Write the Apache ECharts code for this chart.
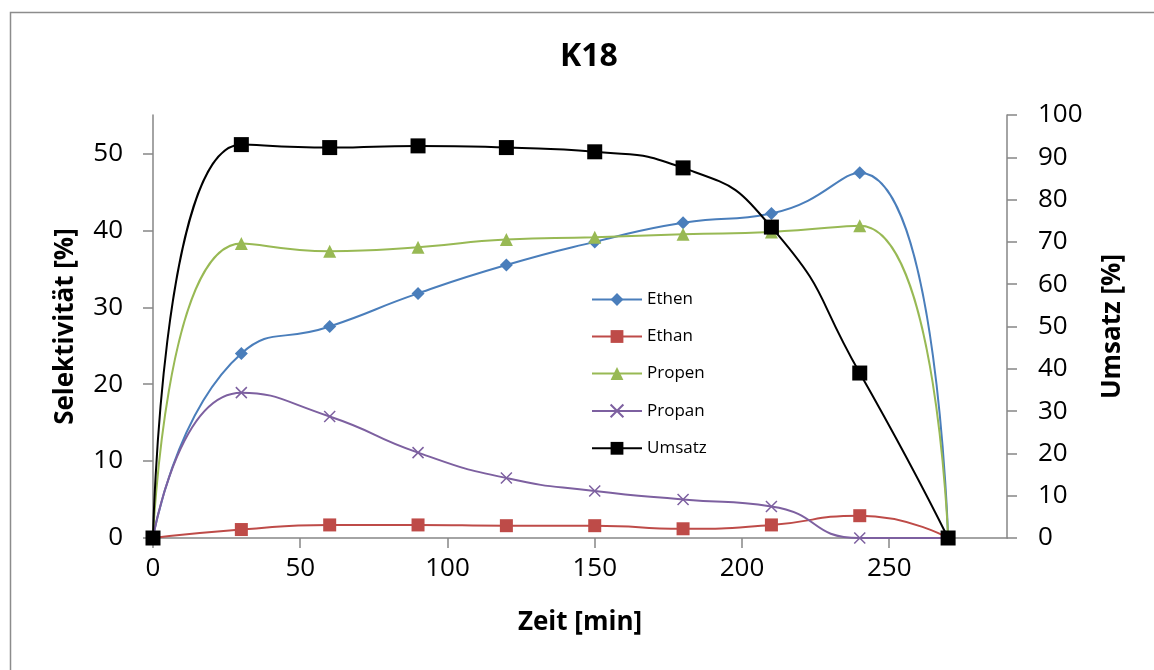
<!DOCTYPE html>
<html>
<head>
<meta charset="utf-8">
<script src="https://cdn.jsdelivr.net/npm/echarts@6/dist/echarts.min.js"></script>
<style>
  html, body { margin: 0; padding: 0; background: #fff; }
  #chart { width: 1154px; height: 670px; }
</style>
</head>
<body>
<div id="chart"></div>
<script>
// Zeit [min]
const zeit = [0, 30, 60, 90, 120, 150, 180, 210, 240, 270];
// Selektivität [%]
const ethen = [0, 24.0, 27.5, 31.8, 35.5, 38.5, 41.0, 42.2, 47.5, 0];
const ethan = [0, 1.1, 1.7, 1.7, 1.6, 1.6, 1.2, 1.7, 2.9, 0];
const propen = [0, 38.3, 37.3, 37.8, 38.8, 39.1, 39.5, 39.8, 40.6, 0];
const propan = [0, 18.9, 15.8, 11.1, 7.8, 6.1, 5.0, 4.1, 0, 0];
// Umsatz [%]
const umsatz = [0, 93.0, 92.3, 92.7, 92.3, 91.3, 87.5, 73.5, 39.0, 0];

// tick labels
const xTicks = [0, 50, 100, 150, 200, 250];
const leftTicks = [0, 10, 20, 30, 40, 50];
const rightTicks = [0, 10, 20, 30, 40, 50, 60, 70, 80, 90, 100];

const pairs = (ys) => zeit.map((x, i) => [x, ys[i]]);
const font = "'Open Sans', 'DejaVu Sans', sans-serif";
const axisGray = "#868686";

const chart = echarts.init(document.getElementById("chart"));

function line(name, data, color, symbol, size, yIndex, extra) {
  return Object.assign({
    name: name,
    type: "line",
    yAxisIndex: yIndex,
    data: pairs(data),
    smooth: 0.55,
    symbol: symbol,
    symbolSize: size,
    lineStyle: { color: color, width: 2 },
    itemStyle: { color: color },
    z: yIndex === 1 ? 3 : 2
  }, extra || {});
}

function axisStyle(ticks, margin) {
  return {
    axisLine: { show: true, lineStyle: { color: axisGray, width: 1.5 } },
    axisTick: { show: true, length: 10, customValues: ticks, lineStyle: { color: axisGray, width: 1.5 } },
    axisLabel: { fontSize: 26, color: "#000", margin: margin, fontFamily: font, customValues: ticks },
    splitLine: { show: false }
  };
}

const nameStyle = { fontFamily: font, fontSize: 26, fontWeight: "bold", color: "#000" };

const option = {
  animation: false,
  backgroundColor: "#fff",
  textStyle: { fontFamily: font },
  graphic: [{
    type: "rect",
    shape: { x: 10.5, y: 12.5, width: 1200, height: 700 },
    style: { fill: "none", stroke: "#8c8c8c", lineWidth: 1.5 },
    silent: true
  }],
  title: {
    text: "K18",
    left: 555,
    top: 36,
    textStyle: { fontFamily: font, fontSize: 32, fontWeight: "bold", color: "#000" }
  },
  legend: {
    orient: "vertical",
    left: 586,
    top: 286,
    itemWidth: 50,
    itemHeight: 16,
    itemGap: 20,
    textStyle: { fontFamily: font, fontSize: 17, color: "#000" },
    data: ["Ethen", "Ethan", "Propen", "Propan", "Umsatz"]
  },
  grid: { left: 153, right: 147, top: 115, bottom: 132 },
  xAxis: Object.assign({
    type: "value",
    min: 0,
    max: 290,
    interval: 50,
    name: "Zeit [min]",
    nameLocation: "middle",
    nameGap: 72,
    nameTextStyle: nameStyle
  }, axisStyle(xTicks, 18)),
  yAxis: [Object.assign({
    type: "value",
    min: 0,
    max: 55,
    interval: 10,
    name: "Selektivität [%]",
    nameLocation: "middle",
    nameRotate: 90,
    nameGap: 74,
    nameTextStyle: nameStyle
  }, axisStyle(leftTicks, 30)), Object.assign({
    type: "value",
    position: "right",
    min: 0,
    max: 100,
    interval: 10,
    name: "Umsatz [%]",
    nameLocation: "middle",
    nameRotate: 90,
    nameGap: 93,
    nameTextStyle: nameStyle
  }, axisStyle(rightTicks, 31))],
  series: [
    line("Ethen", ethen, "#4a7ebb", "diamond", 13, 0),
    line("Ethan", ethan, "#be4b48", "rect", 13, 0),
    line("Propen", propen, "#98b954", "triangle", 13, 0),
    line("Propan", propan, "#7d60a0", "path://M0,0L10,10M10,0L0,10", 11, 0, {
      itemStyle: { color: "none", borderColor: "#7d60a0", borderWidth: 1.5 }
    }),
    line("Umsatz", umsatz, "#000000", "rect", 15, 1)
  ]
};

chart.setOption(option);
</script>
</body>
</html>
